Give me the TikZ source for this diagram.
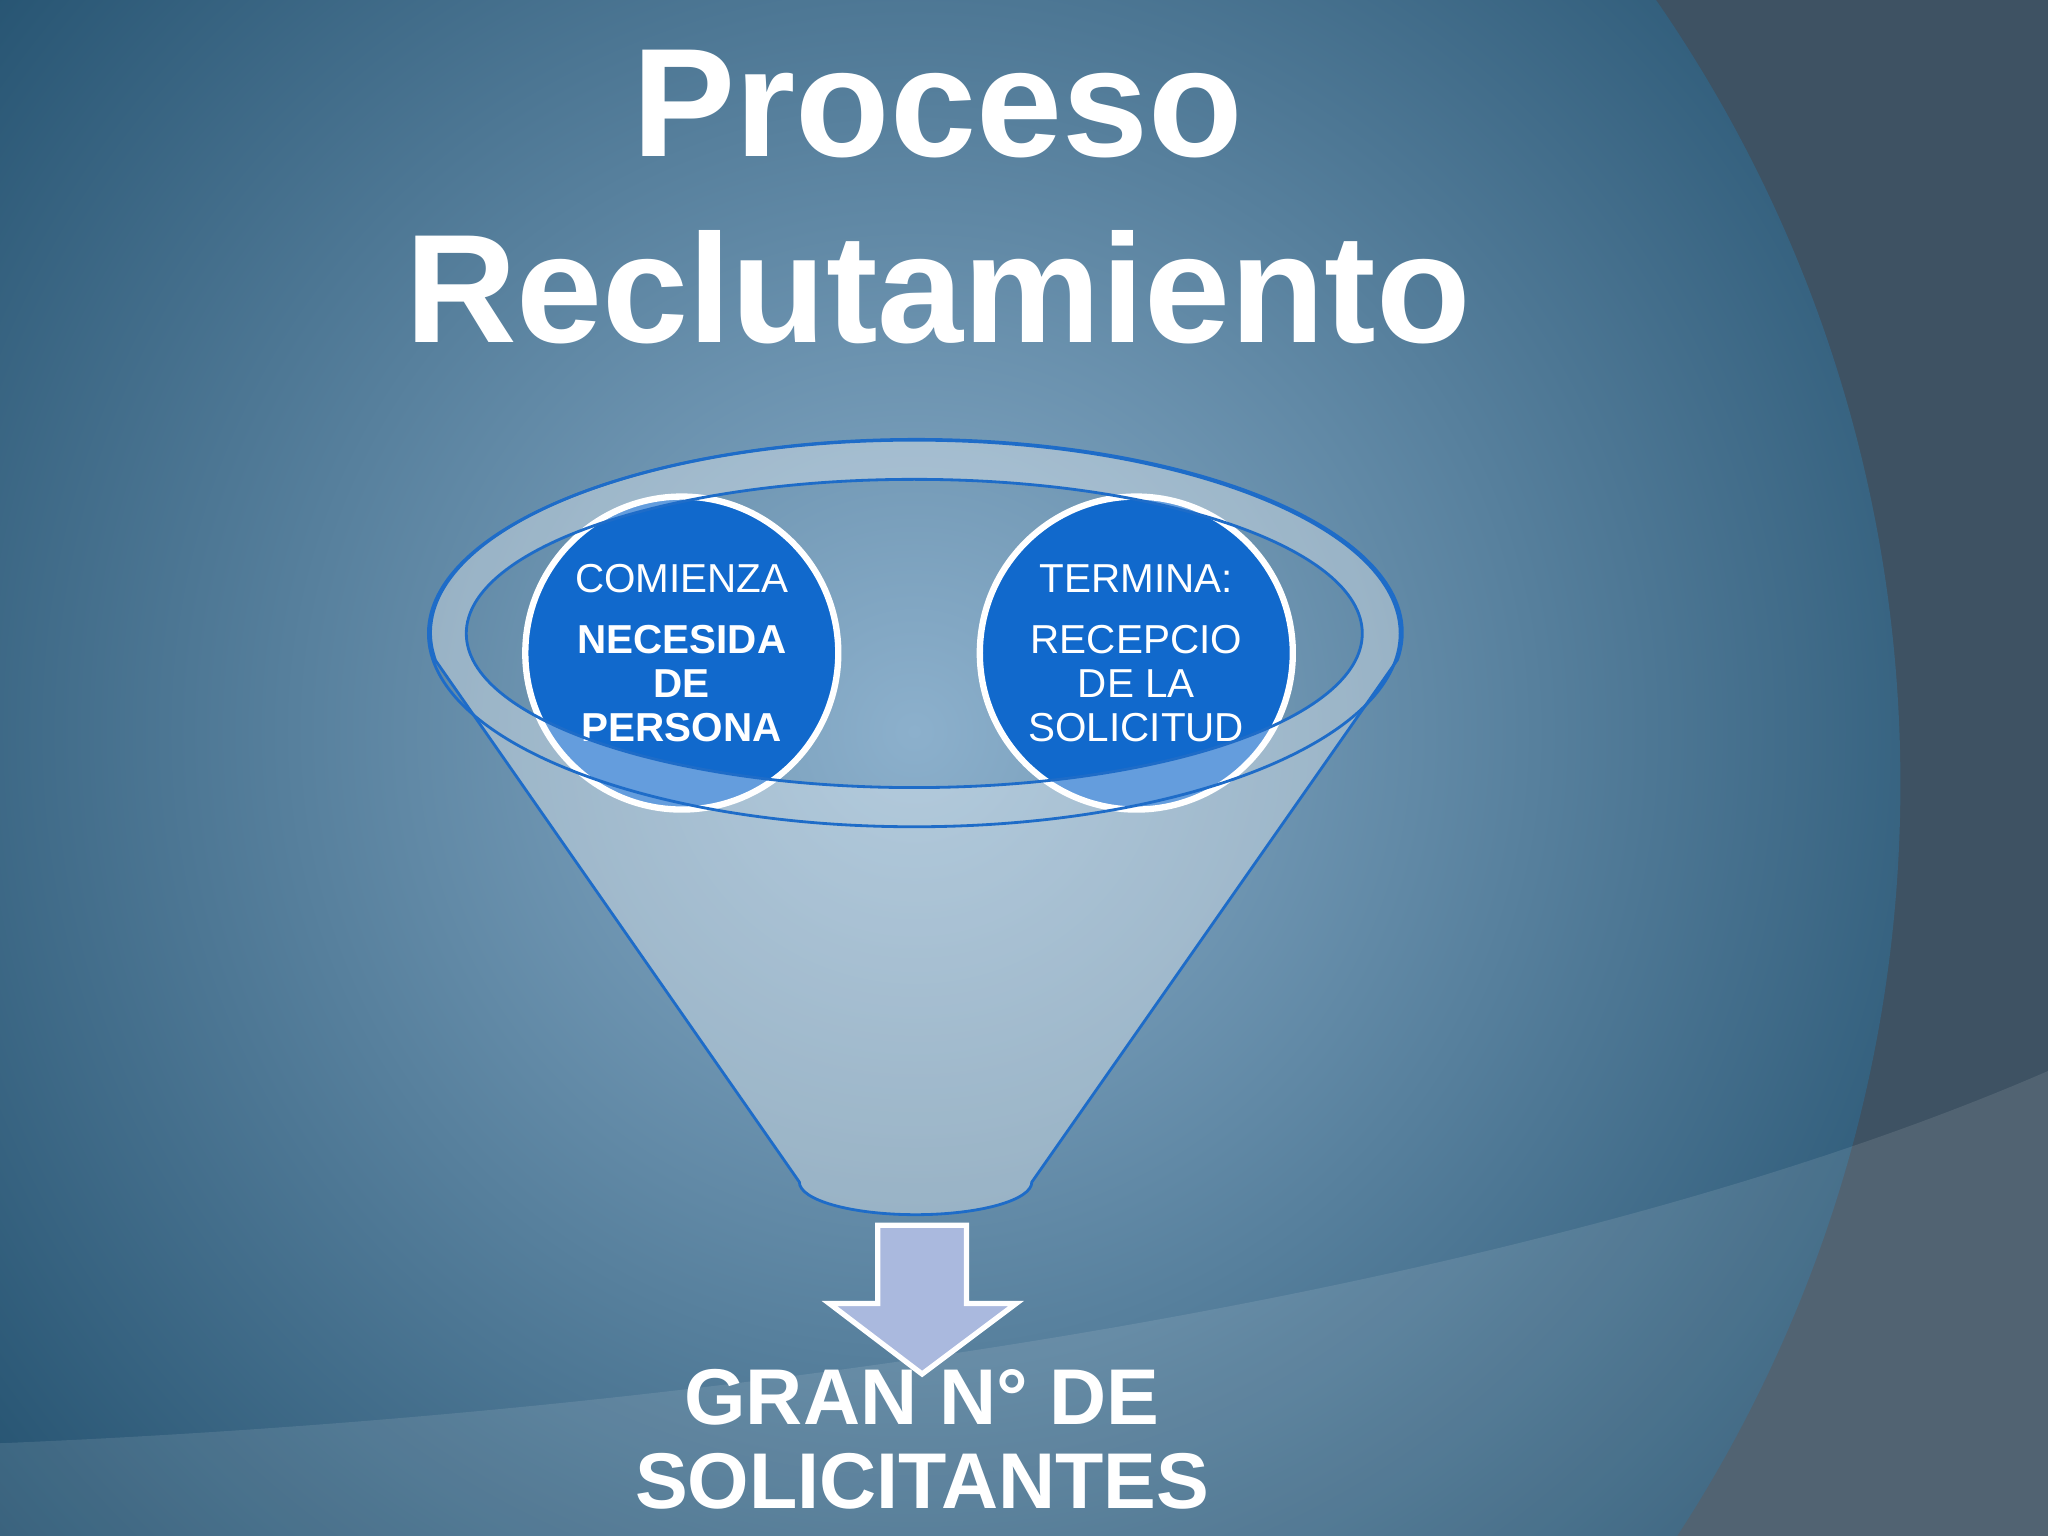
\documentclass[tikz,border=0pt]{standalone}
\usepackage{fontspec}
\setmainfont{Liberation Sans}
\usetikzlibrary{positioning}
\definecolor{bgdark}{HTML}{22506E}
\definecolor{bglight}{HTML}{8CB0CC}
\definecolor{bgside}{HTML}{3E5263}
\definecolor{funnelline}{HTML}{1E6CC8}
\definecolor{discblue}{HTML}{1169CC}
\definecolor{arrowfill}{HTML}{AAB9DE}
\tikzset{
  title/.style = {text=white, font=\fontsize{44}{50}\selectfont\bfseries},
  result/.style = {text=white, font=\fontsize{22.5}{27}\selectfont\bfseries},
  disc/.style = {circle, fill=discblue, draw=white, line width=1.8pt,
                 minimum size=3.13cm, inner sep=0pt, align=center, text=white,
                 font=\fontsize{11.5}{12.5}\selectfont},
  funnel/.style = {fill=white, fill opacity=0.35, draw=funnelline, draw opacity=1, thick},
}
\begin{document}
\begin{tikzpicture}[x=0.01306cm, y=-0.01306cm]
  \useasboundingbox (0,0) rectangle (1568,1176);
  % background
  \fill [bgside] (0,0) rectangle (1568,1176);
  \begin{scope}
    \clip (400,600) circle (1055);
    \shade [inner color=bglight, outer color=bgdark] (700,560) circle (950);
  \end{scope}
  \fill [white, opacity=0.10] (0,1105) .. controls (600,1080) and (1200,980) .. (1568,820)
    -- (1568,1176) -- (0,1176) -- cycle;

  % title
  \node [title] (t1) at (718,80) {Proceso};
  \node [title] (t2) at (718,220) {Reclutamiento};

  % the two discs
  \node [disc] (start) at (522,500) {COMIENZA\\[5pt]\textbf{NECESIDA}\\\textbf{DE}\\\textbf{PERSONA}};
  \node [disc] (end) at (870,500) {TERMINA:\\[5pt]RECEPCIO\\DE LA\\SOLICITUD};

  % funnel over the discs
  \path [funnel, even odd rule]
    (333,505) -- (612,905) arc [start angle=180, end angle=0, x radius=89, y radius=25]
    -- (1070,505) arc [start angle=8, end angle=-188, x radius=372, y radius=148] -- cycle
    (700,485) ellipse [x radius=343, y radius=118];
  \draw [funnelline, thick] (700,485) ellipse [x radius=372, y radius=148];

  % arrow and result
  \coordinate (stem) at (706,938);
  \draw [fill=arrowfill, draw=white, line width=1.5pt]
    (672,938) -- (740,938) -- (740,998) -- (778,998) -- (706,1052)
    -- (635,998) -- (672,998) -- cycle;
  \node [result, align=center] (res) at (706,1102) {GRAN N° DE\\[-3pt]SOLICITANTES};
\end{tikzpicture}
\end{document}
